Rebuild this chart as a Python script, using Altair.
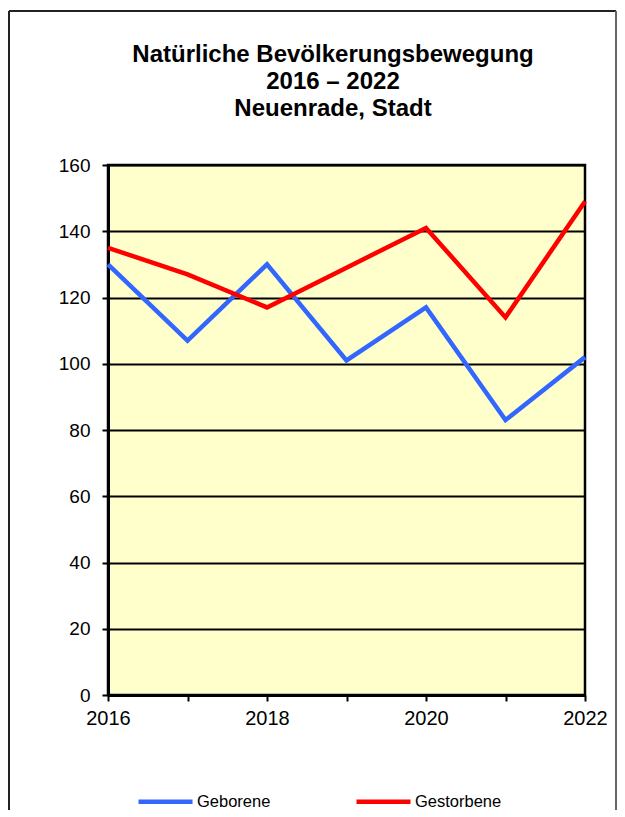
import altair as alt
import pandas as pd

# ---- data ----
years = [2016, 2017, 2018, 2019, 2020, 2021, 2022]
geborene = [130, 107, 130, 101, 117, 83, 102]
gestorbene = [135, 127, 117, 129, 141, 114, 149]
series_names = ["Geborene", "Gestorbene"]
series_colors = ["#3366FF", "#FF0000"]
title_lines = ["Natürliche Bevölkerungsbewegung", "2016 – 2022", "Neuenrade, Stadt"]
y_ticks = [0, 20, 40, 60, 80, 100, 120, 140, 160]
x_ticks = years

df = pd.DataFrame({
    "Jahr": years + years,
    "Anzahl": geborene + gestorbene,
    "Serie": [series_names[0]] * len(years) + [series_names[1]] * len(years),
})

FONT = "Liberation Sans"
W, H = 477, 530

lines = alt.Chart(df).mark_line(strokeWidth=4.5, strokeJoin="miter").encode(
    x=alt.X("Jahr:Q",
            scale=alt.Scale(domain=[years[0], years[-1]], nice=False, zero=False),
            axis=alt.Axis(values=x_ticks, format="d", title=None, grid=False,
                          labelExpr="datum.value % 2 == 0 ? datum.label : ''",
                          labelFontSize=20, labelFont=FONT, labelColor="black",
                          labelPadding=7, tickSize=6, tickWidth=2, tickColor="black",
                          domainColor="black", domainWidth=3, labelFlush=False)),
    y=alt.Y("Anzahl:Q",
            scale=alt.Scale(domain=[0, 160], nice=False),
            axis=alt.Axis(values=y_ticks, title=None, grid=True, gridColor="black",
                          gridWidth=2, gridOpacity=1,
                          labelFontSize=19, labelFont=FONT, labelColor="black",
                          labelPadding=12, tickSize=6, tickWidth=2, tickColor="black",
                          domainColor="black", domainWidth=3)),
    color=alt.Color("Serie:N",
                    scale=alt.Scale(domain=series_names, range=series_colors),
                    legend=alt.Legend(orient="none", legendX=28, legendY=607,
                                      direction="horizontal", title=None,
                                      symbolType="stroke", symbolSize=2916,
                                      symbolStrokeWidth=4.5, labelFontSize=16.5,
                                      labelFont=FONT, labelColor="black",
                                      columnPadding=76, padding=0, labelOffset=2)),
)

one = pd.DataFrame({"k": [0]})

title = alt.Chart(one).mark_text(
    text=title_lines, font=FONT, fontSize=24, fontWeight="bold", color="black",
    align="center", baseline="alphabetic", lineHeight=27,
).encode(x=alt.value(225), y=alt.value(-102.7))

frame_left = alt.Chart(one).mark_rule(color="#222222", strokeWidth=2).encode(
    x=alt.value(-99), y=alt.value(-154), y2=alt.value(900))
frame_top = alt.Chart(one).mark_rule(color="#222222", strokeWidth=2).encode(
    x=alt.value(-99), x2=alt.value(508), y=alt.value(-154))
frame_right = alt.Chart(one).mark_rule(color="#666666", strokeWidth=2).encode(
    x=alt.value(508), y=alt.value(-154), y2=alt.value(900))

chart = alt.layer(lines, title, frame_left, frame_top, frame_right).properties(
    width=W, height=H,
    autosize=alt.AutoSizeParams(type="none"),
    padding={"left": 100, "top": 157, "right": 32, "bottom": 115},
    background="white",
).configure_view(
    fill="#FFFFCC", stroke="black", strokeWidth=2.5
)

chart.save("out.html", embed_options={"renderer": "svg", "actions": False})
